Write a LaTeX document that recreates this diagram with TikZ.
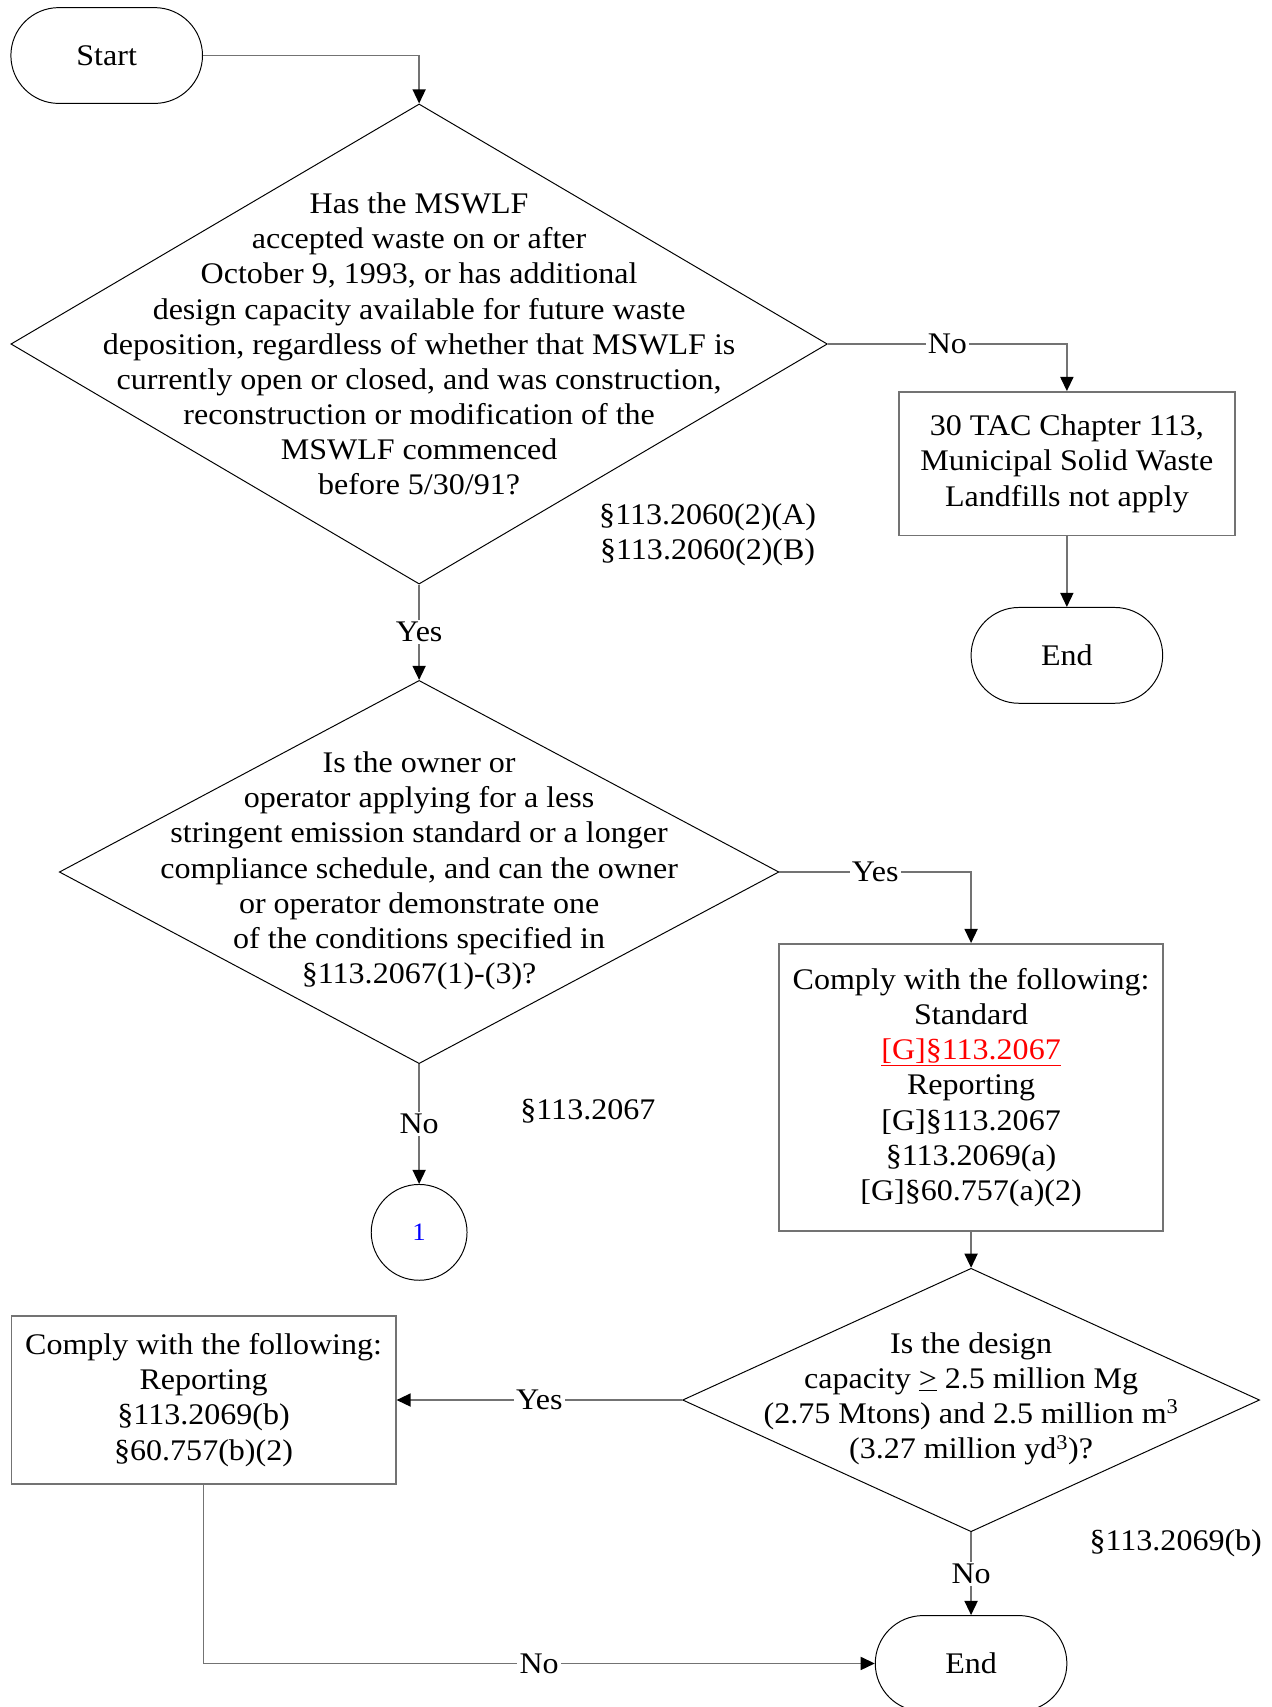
\documentclass[tikz,border=0pt]{standalone}
\usepackage{fontspec}
\setmainfont{Liberation Serif}[FakeStretch=1.07]
\usetikzlibrary{shapes.geometric,arrows.meta}

\begin{document}
\begin{tikzpicture}[x=1pt, y=-1pt,
		every node/.style={font=\fontsize{27.5}{32.3}\selectfont, align=center},
		terminal/.style={draw, line width=0.9pt, rectangle, rounded corners=44pt, minimum width=176pt, minimum height=88pt},
		decision/.style={draw, line width=0.9pt, diamond, inner sep=0pt},
		process/.style={draw=black!55, line width=1.5pt, rectangle, inner sep=0pt},
		flow/.style={draw=black!55, line width=1.5pt, -{Triangle[length=13pt,width=12pt,color=black]}},
		lbl/.style={fill=white, inner sep=2pt}]
				\useasboundingbox (0,0) rectangle (1168,1568);
				
				\node [terminal] (start) at (98,51) {Start};
				\node [decision, minimum width=750pt, minimum height=441pt] (accepted) at (385,316) {};
				\node (acceptedtext) at (385,316) {Has the MSWLF\\accepted waste on or after\\October 9, 1993, or has additional\\design capacity available for future waste\\deposition, regardless of whether that MSWLF is\\currently open or closed, and was construction,\\reconstruction or modification of the\\MSWLF commenced\\before 5/30/91?};
				\node (ref1) at (650,491) {§113.2060(2)(A)\\§113.2060(2)(B)};
				
				\node [process, minimum width=309pt, minimum height=132pt] (notapply) at (980,426) {30 TAC Chapter 113,\\Municipal Solid Waste\\Landfills not apply};
				\node [terminal] (end1) at (980,602) {End};
				
				\node [decision, minimum width=661pt, minimum height=352pt] (lessstringent) at (385,801) {};
				\node (lessstringenttext) at (385,800) {Is the owner or\\operator applying for a less\\stringent emission standard or a longer\\compliance schedule, and can the owner\\or operator demonstrate one\\of the conditions specified in\\§113.2067(1)-(3)?};
				\node (ref2) at (540,1021) {§113.2067};
				
				\node [process, minimum width=353pt, minimum height=264pt] (comply1) at (892,999) {Comply with the following:\\Standard\\\textcolor{red}{\underline{[G]§113.2067}}\\Reporting\\{[G]§113.2067}\\§113.2069(a)\\{[G]§60.757(a)(2)}};
				\node [draw, line width=0.9pt, circle, minimum size=88pt, inner sep=0pt, text=blue, font=\fontsize{23}{26}\selectfont] (conn1) at (385,1132) {1};
				
				\node [decision, minimum width=530pt, minimum height=242pt] (capacity) at (892,1286) {};
				\node (capacitytext) at (892,1285) {Is the design\\capacity \underline{>} 2.5 million Mg\\(2.75 Mtons) and 2.5 million m\textsuperscript{3}\\(3.27 million yd\textsuperscript{3})?};
				\node (ref3) at (1080,1418) {§113.2069(b)};
				
				\node [process, minimum width=353pt, minimum height=154pt] (comply2) at (187,1286) {Comply with the following:\\Reporting\\§113.2069(b)\\§60.757(b)(2)};
				\node [terminal] (end2) at (892,1528) {End};
				
				\draw [flow] (start.east) -| (accepted.north);
				\draw [flow] (accepted.east) -| node [lbl, pos=0.25] (no1) {No} (notapply.north);
				\draw [flow] (notapply.south) -- (end1.north);
				\draw [flow] (accepted.south) -- node [lbl] (yes1) {Yes} (lessstringent.north);
				\draw [flow] (lessstringent.east) -| node [lbl, pos=0.25] (yes2) {Yes} (comply1.north);
				\draw [flow] (lessstringent.south) -- node [lbl] (no2) {No} (conn1.north);
				\draw [flow] (comply1.south) -- (capacity.north);
				\draw [flow] (capacity.west) -- node [lbl] (yes3) {Yes} (comply2.east);
				\draw [flow] (capacity.south) -- node [lbl] (no3) {No} (end2.north);
				\draw [flow] (comply2.south) |- node [lbl, pos=0.75] (no4) {No} (end2.west);
			\end{tikzpicture}
\end{document}
